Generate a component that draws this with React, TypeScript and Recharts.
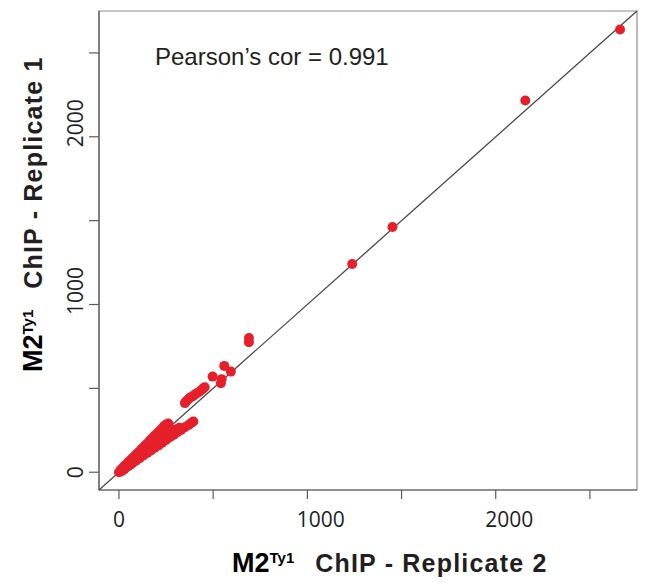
import React from "react"
import {
  ScatterChart,
  Scatter,
  XAxis,
  YAxis,
  ReferenceLine,
  ReferenceArea,
} from "recharts"

// Replicate 2 (x) vs replicate 1 (y) read counts per peak
const BULK_REP2 = [
  0, 10, 20, 30, 40, 50, 60, 70, 80, 90, 100, 110, 120, 130, 140, 150, 160, 170, 180, 190, 200, 210, 220, 230, 240, 250, 262,
  20, 40, 60, 80, 100, 120, 140, 160, 180, 200, 220, 240, 260, 280, 300, 320,
  10, 30, 50, 70, 90, 110, 130, 150, 170, 190, 210, 230, 250, 270, 290, 310, 330, 350, 370, 385, 395,
]
const BULK_REP1 = [
  0, 15, 25, 38, 48, 60, 70, 82, 92, 104, 115, 125, 138, 148, 160, 170, 183, 195, 205, 218, 228, 240, 250, 262, 275, 285, 290,
  10, 30, 45, 65, 80, 100, 115, 135, 150, 170, 190, 210, 230, 245, 255, 265,
  5, 20, 38, 52, 68, 84, 100, 115, 130, 146, 160, 176, 192, 208, 222, 238, 252, 268, 282, 295, 302,
]
const MID_REP2 = [350, 358, 368, 378, 390, 400, 412, 425, 438, 448, 455]
const MID_REP1 = [412, 425, 435, 445, 452, 460, 470, 478, 490, 500, 507]
const HIGH_REP2 = [497, 541, 545, 559, 594, 690, 690, 1238, 1452, 2157, 2660]
const HIGH_REP1 = [570, 531, 555, 634, 600, 775, 800, 1242, 1462, 2216, 2640]

const DOMAIN: [number, number] = [-106, 2750]
const TICKS = [0, 500, 1000, 1500, 2000, 2500]
const LABELED = [0, 1000, 2000]
const PEARSON = 0.991

const pairs = (xs: number[], ys: number[]) => xs.map((x, i) => ({ x, y: ys[i] }))
const points = [
  ...pairs(BULK_REP2, BULK_REP1),
  ...pairs(MID_REP2, MID_REP1),
  ...pairs(HIGH_REP2, HIGH_REP1),
]

const RED = "#e5202a"
const AXIS = "#5a5a5a"
const tickFont = "'Open Sans', 'DejaVu Sans', sans-serif"
const titleFont = "'Liberation Sans', Arial, sans-serif"

const XTick = ({ x, y, payload }: any) => {
  if (!LABELED.includes(payload.value)) return null
  const label = String(payload.value)
  return (
    <text
      x={x + (label.length - 1) * 4.5}
      y={y + 26}
      textAnchor="middle"
      fontFamily={tickFont}
      fontSize={21}
      fill="#1e1e1e"
    >
      {label}
    </text>
  )
}

const YTick = ({ x, y, payload }: any) => {
  if (!LABELED.includes(payload.value)) return null
  const label = String(payload.value)
  const tx = x - 4
  const ty = y - (label.length - 1) * 4.5
  return (
    <text
      x={tx}
      y={ty}
      transform={`rotate(-90, ${tx}, ${ty})`}
      textAnchor="middle"
      fontFamily={tickFont}
      fontSize={21}
      fill="#1e1e1e"
    >
      {label}
    </text>
  )
}

const Title = ({ x, y, rotate, rep }: { x: number; y: number; rotate?: boolean; rep: number }) => (
  <text
    x={x}
    y={y}
    transform={rotate ? `rotate(-90, ${x}, ${y})` : undefined}
    fontFamily={titleFont}
    fontWeight="bold"
  >
    <tspan fontSize={27} fill="#000">M2</tspan>
    <tspan fontSize={15} dy={-9} fill="#000">Ty1</tspan>
    <tspan fontSize={25} dy={9} dx={21} letterSpacing={1.2} fill="#231f20">
      {`ChIP - Replicate ${rep}`}
    </tspan>
  </text>
)

export default function App() {
  return (
    <div style={{ position: "absolute", left: 0, top: 0, width: 646, height: 586, background: "#fff" }}>
      <ScatterChart width={646} height={586} margin={{ top: 11, right: 9, bottom: 0, left: 0 }}>
        <XAxis
          type="number"
          dataKey="x"
          domain={DOMAIN}
          ticks={TICKS}
          allowDataOverflow
          height={96}
          tickSize={9}
          tick={<XTick />}
          axisLine={{ stroke: AXIS, strokeWidth: 1.2 }}
          tickLine={{ stroke: AXIS, strokeWidth: 1.2 }}
        />
        <YAxis
          type="number"
          dataKey="y"
          domain={DOMAIN}
          ticks={TICKS}
          allowDataOverflow
          width={99}
          tickSize={10}
          tick={<YTick />}
          axisLine={{ stroke: AXIS, strokeWidth: 1.2 }}
          tickLine={{ stroke: AXIS, strokeWidth: 1.2 }}
        />
        <ReferenceArea
          x1={DOMAIN[0]}
          x2={DOMAIN[1]}
          y1={DOMAIN[0]}
          y2={DOMAIN[1]}
          fill="none"
          stroke="#8c8c8c"
          strokeWidth={1.2}
        />
        <Scatter
          data={points}
          isAnimationActive={false}
          shape={(p: any) => <circle cx={p.cx} cy={p.cy} r={5} fill={RED} />}
        />
        {/* y = x identity line */}
        <ReferenceLine
          segment={[
            { x: DOMAIN[0], y: DOMAIN[0] },
            { x: DOMAIN[1], y: DOMAIN[1] },
          ]}
          stroke="#4a4a4a"
          strokeWidth={1.3}
        />
      </ScatterChart>
      <svg width={646} height={586} style={{ position: "absolute", left: 0, top: 0, pointerEvents: "none" }}>
        <text x={155} y={65} fontFamily={titleFont} fontSize={24} fill="#231f20">
          {`Pearson’s cor = ${PEARSON}`}
        </text>
        <Title x={232} y={572} rep={2} />
        <Title x={42} y={372} rotate rep={1} />
      </svg>
    </div>
  )
}
